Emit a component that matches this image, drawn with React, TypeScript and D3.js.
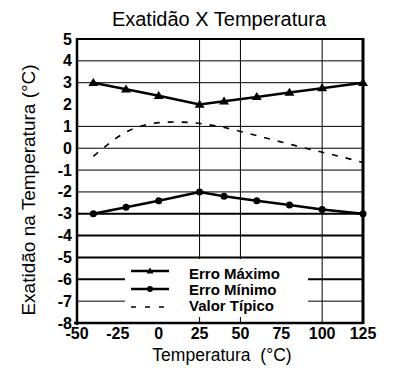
import React from "react";
import * as d3 from "d3";

const temps = [-40, -20, 0, 25, 40, 60, 80, 100, 125];
const erroMaximo = [3.0, 2.7, 2.4, 2.0, 2.15, 2.35, 2.55, 2.75, 3.0];
const erroMinimo = [-3.0, -2.7, -2.4, -2.0, -2.2, -2.4, -2.6, -2.8, -3.0];
const tipicoTemps = [-40, -35, -30, -20, -10, 0, 10, 20, 30, 40, 50, 60, 70, 80, 90, 100, 110, 120, 125];
const tipicoValues = [-0.37, -0.06, 0.24, 0.74, 1.03, 1.17, 1.2, 1.17, 1.08, 0.95, 0.77, 0.58, 0.38, 0.19, 0.0, -0.18, -0.36, -0.55, -0.65];

const xTicks = [-50, -25, 0, 25, 50, 75, 100, 125];
const yTicks = [5, 4, 3, 2, 1, 0, -1, -2, -3, -4, -5, -6, -7, -8];
const xGrid = [25, 50, 100];
const yGrid = [4, 3, 1, 0, -1, -2, -3, -4, -5, -6, -7];
const thickGrid = [-3, -4, -5, -6];
const legendLabels = ["Erro Máximo", "Erro Mínimo", "Valor Típico"];
const titleText = "Exatidão X Temperatura";
const xTitle = "Temperatura  (°C)";
const yTitle = "Exatidão na Temperatura (°C)";

const FONT = "'Liberation Sans', Arial, sans-serif";

export default function App() {
  const W = 396, H = 380;
  const left = 77, right = 363, top = 39, bottom = 323;
  const x = d3.scaleLinear().domain([-50, 125]).range([left, right]);
  const y = d3.scaleLinear().domain([-8, 5]).range([bottom, top]);

  const line = d3.line<[number, number]>().x(d => x(d[0])).y(d => y(d[1]));
  const curve = d3.line<[number, number]>().x(d => x(d[0])).y(d => y(d[1])).curve(d3.curveMonotoneX);

  const maxPts = temps.map((t, i) => [t, erroMaximo[i]] as [number, number]);
  const minPts = temps.map((t, i) => [t, erroMinimo[i]] as [number, number]);
  const tipPts = tipicoTemps.map((t, i) => [t, tipicoValues[i]] as [number, number]);

  const tri = (cx: number, cy: number, hw: number, h: number) =>
    `M${cx - hw},${cy + h * 0.4}L${cx},${cy - h * 0.6}L${cx + hw},${cy + h * 0.4}Z`;

  const legX0 = 131, legX1 = 169, legTextX = 189;
  const legLineY = [271, 289, 307];
  const legTextY = [279, 295, 311];

  return (
    <svg width={W} height={H} style={{ position: "absolute", left: 0, top: 0, background: "#fff" }} fontFamily={FONT}>
      <rect x={0} y={0} width={W} height={H} fill="#fff" />
      <text x={219} y={26} textAnchor="middle" fontSize={20} fill="#000">{titleText}</text>

      {/* grid */}
      {yGrid.map(v => (
        <line key={"hy" + v} x1={left} x2={right} y1={y(v)} y2={y(v)} stroke="#000"
          strokeWidth={thickGrid.includes(v) ? 2 : 1} />
      ))}
      {xGrid.map(v => (
        <line key={"vx" + v} x1={x(v)} x2={x(v)} y1={top} y2={bottom} stroke="#000" strokeWidth={1} />
      ))}

      {/* legend box covering grid */}
      <rect x={125} y={259} width={183} height={58} fill="#fff" />

      {/* frame */}
      <line x1={left} x2={left} y1={top - 1} y2={bottom + 2} stroke="#000" strokeWidth={2.5} />
      <line x1={left} x2={right} y1={top} y2={top} stroke="#000" strokeWidth={2} />
      <line x1={right} x2={right} y1={top - 1} y2={bottom + 1} stroke="#000" strokeWidth={3} />
      <line x1={left - 3} x2={right} y1={bottom} y2={bottom} stroke="#000" strokeWidth={2.5} />

      {/* y tick labels */}
      {yTicks.map(v => (
        <text key={"yt" + v} x={72} y={y(v) + 5.5} textAnchor="end" fontSize={16} fontWeight="bold" fill="#000">{v}</text>
      ))}
      {/* x tick labels */}
      {xTicks.map(v => (
        <text key={"xt" + v} x={x(v)} y={339} textAnchor="middle" fontSize={16} fontWeight="bold" fill="#000">{v}</text>
      ))}

      {/* axis titles */}
      <text x={222} y={361} textAnchor="middle" fontSize={17.5} fill="#000" style={{ whiteSpace: "pre" }}>{xTitle}</text>
      <text transform={`translate(35,190) rotate(-90)`} textAnchor="middle" fontSize={19} fill="#000">{yTitle}</text>

      {/* series */}
      <path d={curve(tipPts) || ""} fill="none" stroke="#000" strokeWidth={1.6} strokeDasharray="6,8" />
      <path d={line(maxPts) || ""} fill="none" stroke="#000" strokeWidth={2.5} />
      <path d={line(minPts) || ""} fill="none" stroke="#000" strokeWidth={2.5} />
      {maxPts.map((p, i) => (
        <path key={"mx" + i} d={tri(x(p[0]), y(p[1]), 5, 8)} fill="#000" />
      ))}
      {minPts.map((p, i) => (
        <circle key={"mn" + i} cx={x(p[0])} cy={y(p[1])} r={3.5} fill="#000" />
      ))}

      {/* legend */}
      <line x1={legX0} x2={legX1} y1={legLineY[0]} y2={legLineY[0]} stroke="#000" strokeWidth={2.5} />
      <path d={tri((legX0 + legX1) / 2, legLineY[0], 3.5, 6)} fill="#000" />
      <line x1={legX0} x2={legX1} y1={legLineY[1]} y2={legLineY[1]} stroke="#000" strokeWidth={2.5} />
      <circle cx={(legX0 + legX1) / 2} cy={legLineY[1]} r={3} fill="#000" />
      <line x1={legX0} x2={legX1} y1={legLineY[2]} y2={legLineY[2]} stroke="#000" strokeWidth={1.6} strokeDasharray="5,9" />
      {legendLabels.map((l, i) => (
        <text key={l} x={legTextX} y={legTextY[i]} fontSize={15} fontWeight="bold" fill="#000">{l}</text>
      ))}
    </svg>
  );
}
